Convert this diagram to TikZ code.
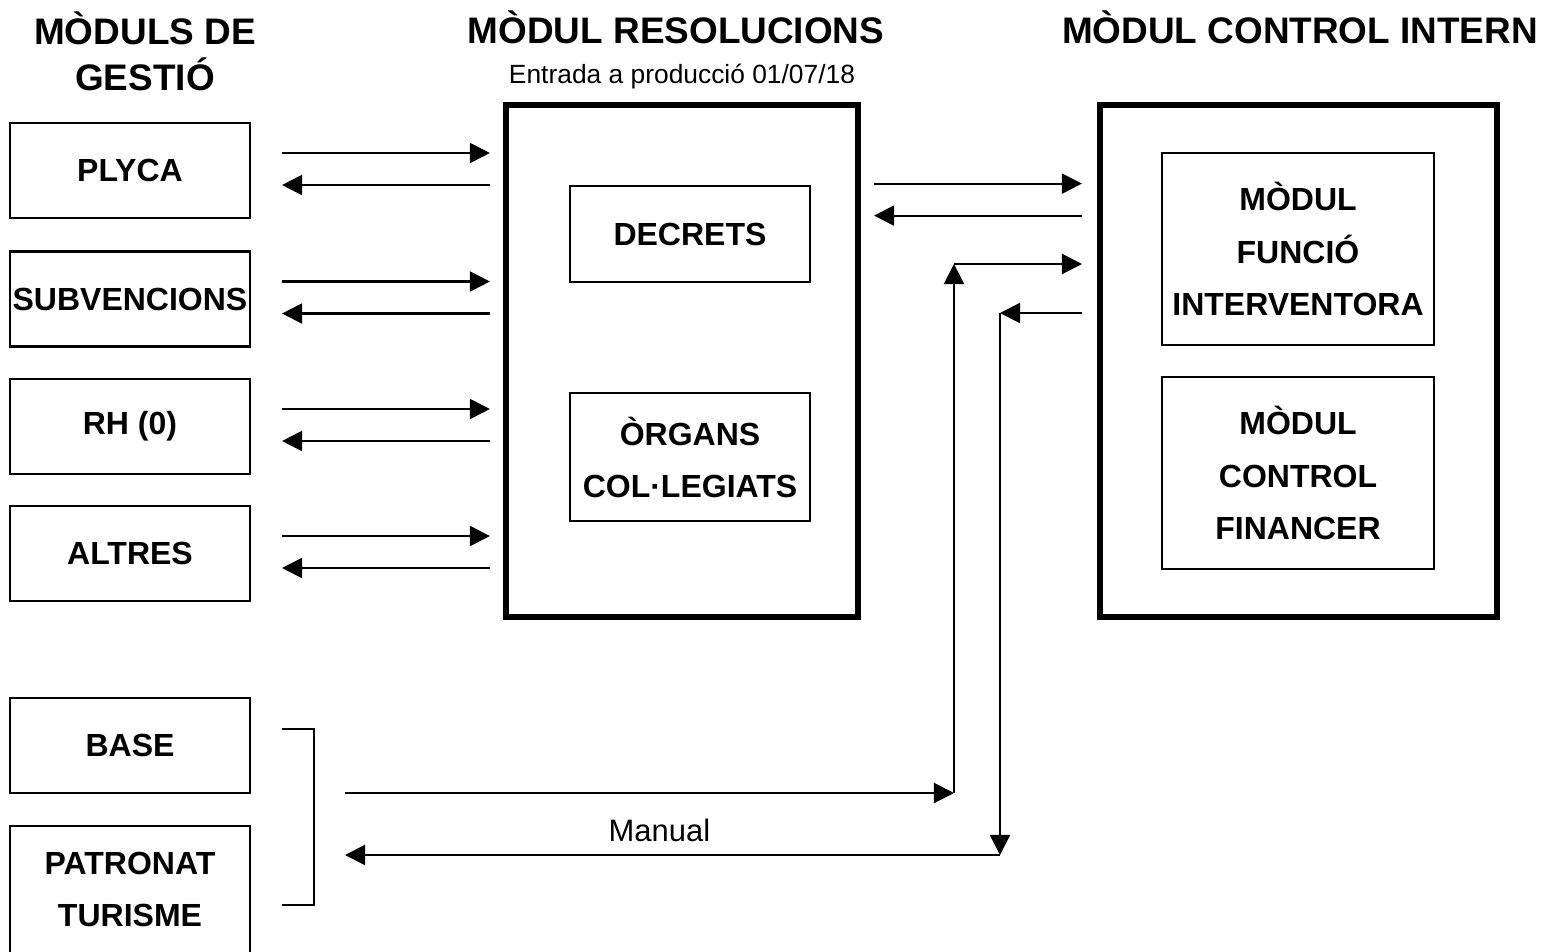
\documentclass[tikz,border=0pt]{standalone}
\usepackage{fontspec}
\setmainfont{Liberation Sans}
\usetikzlibrary{arrows.meta,calc}

\begin{document}
\begin{tikzpicture}[x=0.01cm,y=-0.01cm,line width=0.6pt,>={Triangle[length=5.7pt,width=5.7pt]}]
    \tikzstyle{gestio}=[draw,minimum width=2.4cm,minimum height=0.95cm,inner sep=0pt,outer sep=0pt,align=center,font=\fontsize{9.1}{14.8}\selectfont\bfseries]
    \tikzstyle{modul}=[draw,line width=1.7pt,outer sep=0pt,minimum height=5.115cm]
    \tikzstyle{titol}=[align=center,font=\fontsize{10.5}{13}\selectfont\bfseries]
    \tikzstyle{flux}=[->]

    \useasboundingbox (0,0) rectangle (1557,951);

    % Titles of the three columns
    \node[titol] (t-ges) at (145,51) {MÒDULS DE\\GESTIÓ};
    \node[titol] (t-res) at (676,27) {MÒDUL RESOLUCIONS};
    \node[font=\fontsize{7.5}{9}\selectfont] (data) at (682,77) {Entrada a producció 01/07/18};
    \node[titol] (t-ctl) at (1300,27) {MÒDUL CONTROL INTERN};

    % Draw the two main modules
    \node[modul,minimum width=3.52cm] (res) at (682,361) {};
    \node[modul,minimum width=3.97cm] (ctl) at (1298.5,361) {};

    % Inner boxes
    \node[gestio,minimum height=0.96cm] (decrets) at (690,234) {DECRETS};
    \node[gestio,minimum height=1.28cm] (organs) at (690,457) {ÒRGANS\\COL·LEGIATS};
    \node[gestio,minimum width=2.72cm,minimum height=1.92cm] (funcio) at (1298,249) {MÒDUL\\FUNCIÓ\\INTERVENTORA};
    \node[gestio,minimum width=2.72cm,minimum height=1.92cm] (financer) at (1298,473) {MÒDUL\\CONTROL\\FINANCER};

    % Management modules, each one linked both ways with resolucions
    \foreach \nom/\txt/\y in {plyca/PLYCA/170.5,subv/SUBVENCIONS/299,rh/RH (0)/426.5,altres/ALTRES/553.5}
    {
        \node[gestio] (\nom) at (130,\y) {\txt};
        \draw[flux] ($(\nom.east)+(32,-17.5)$) -- ($(\nom.east -| res.west)+(-16,-17.5)$);
        \draw[flux] ($(\nom.east -| res.west)+(-16,14.5)$) -- ($(\nom.east)+(32,14.5)$);
    }

    % Modules with manual link
    \node[gestio] (base) at (130,745.5) {BASE};
    \node[gestio,minimum height=1.27cm] (patronat) at (130,889.5) {PATRONAT\\TURISME};

    % Resolucions <-> control intern
    \draw[flux] ($(res.north east)+(16,78.5)$) -- ($(ctl.north west)+(-18,78.5)$);
    \draw[flux] ($(ctl.north west)+(-18,110.5)$) -- ($(res.north east)+(16,110.5)$);

    % Manual path
    \coordinate (clau-a) at (282,729);
    \coordinate (clau-b) at (282,905);
    \coordinate (sortida) at (345,793);
    \coordinate (arribada) at (345,855);
    \coordinate (puja) at (954,793);
    \coordinate (puja-dalt) at (954,264);
    \coordinate (entrada) at (1082,264);
    \coordinate (tornada) at (1082,313);
    \coordinate (baixa-dalt) at (1000,313);
    \coordinate (baixa) at (1000,855);
    \draw (clau-a) -- ++(32,0) |- (clau-b);
    \draw[flux] (sortida) -- (puja);
    \draw[flux] (puja) -- (puja-dalt);
    \draw[flux] (puja-dalt) -- (entrada);
    \draw[flux] (tornada) -- (baixa-dalt);
    \draw[flux] (baixa-dalt) -- (baixa);
    \draw[flux] (baixa) -- (arribada) node[pos=0.52,above=0pt,font=\fontsize{8.8}{10}\selectfont] (manual) {Manual};
\end{tikzpicture}
\end{document}
